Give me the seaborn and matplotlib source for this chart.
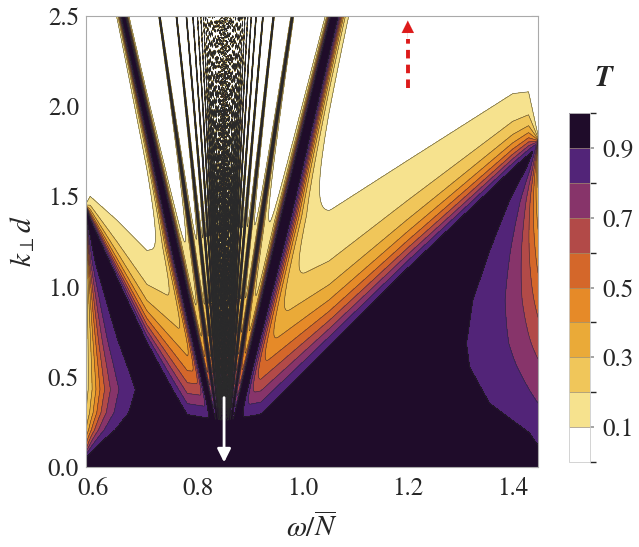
import numpy as np
import matplotlib
matplotlib.use("Agg")
import matplotlib.pyplot as plt
from matplotlib.colors import ListedColormap, BoundaryNorm
import seaborn as sns

# colour bands of the transmission T
t_levels = [0.0, 0.1, 0.2, 0.3, 0.4, 0.5, 0.6, 0.7, 0.8, 0.9, 1.0]
band_colors = ["#ffffff", "#f6e28e", "#f0c65a", "#eaaa38", "#e68a28",
               "#d4672a", "#b24a48", "#87346a", "#522478", "#1f0c2a"]
cbar_ticks = [0.1, 0.3, 0.5, 0.7, 0.9]

# frequency band and centre of the resonance fan
omega_min, omega_max = 0.587, 1.448
omega_c = 0.85

# fringe rays: k*B/|w - wc| = pi*(n + n0)
fringe_B = 0.433
fringe_n0 = {"left": 0.80, "right": 0.65}
halo_edge = {"left": 0.40, "right": 0.30}

# T=0.9 and T=0.1 lines of the decaying envelope
env_omega = [0.587, 0.595, 0.646, 0.703, 0.78, 0.85, 0.92, 1.05, 1.20, 1.40, 1.43, 1.448]
env_k09 = [1.44, 1.37, 1.05, 0.70, 0.30, 0.26, 0.30, 0.68, 1.11, 1.66, 1.74, 1.80]
env_k01 = [1.46, 1.50, 1.368, 1.20, 1.25, 1.30, 1.35, 1.42, 1.70, 2.07, 2.08, 1.84]
env_growth = 0.85

# side lobes at both band edges: width of T=0.9 region and T on the edge
lobe_left_k = [0.0, 0.05, 0.12, 0.205, 0.30, 0.43, 0.55, 0.70, 0.85, 1.13, 1.40, 2.5]
lobe_left_w = [0.0, 0.0, 0.022, 0.055, 0.08, 0.092, 0.078, 0.06, 0.045, 0.018, 0.0, 0.0]
lobe_left_T = [0.95, 0.90, 0.50, 0.30, 0.20, 0.15, 0.14, 0.13, 0.13, 0.13, 0.13, 0.13]
lobe_right_k = [0.0, 0.12, 0.188, 0.354, 0.555, 0.685, 0.925, 1.20, 1.48, 1.66, 1.82, 2.5]
lobe_right_w = [0.0, 0.0, 0.016, 0.092, 0.13, 0.136, 0.124, 0.092, 0.054, 0.022, 0.0, 0.0]
lobe_right_T = [0.95, 0.90, 0.86, 0.80, 0.72, 0.66, 0.56, 0.45, 0.33, 0.25, 0.20, 0.20]
lobe_power = 3

# annotation arrows
white_arrow = (0.85, 0.40, 0.01)
red_arrow = (1.20, 2.10, 2.49)

sns.set_theme(style="white")
plt.rcParams["font.family"] = ["STIXGeneral", "DejaVu Serif"]
plt.rcParams["mathtext.fontset"] = "stix"

# grid
om = np.linspace(omega_min, omega_max, 1500)
kk = np.linspace(0.0, 2.5, 800)
W, K = np.meshgrid(om, kk)

# fringe factor: flat-topped first resonance, sharp higher orders
left = W < omega_c
delta = np.abs(W - omega_c) + 1e-6
psi = K * fringe_B / delta - np.where(left, fringe_n0["left"], fringe_n0["right"]) * np.pi
pc = np.where(left, halo_edge["left"], halo_edge["right"]) * np.pi
S = np.where(psi >= np.pi, np.sin(psi) ** 2,
             np.where(psi >= pc, np.sin(0.5 * np.pi * (np.pi - psi) / (np.pi - pc)) ** 2, 1.0))
S = np.where(psi < 1.5 * np.pi, S ** 2, S)

# envelope
k09 = np.interp(om, env_omega, env_k09)
k01 = np.interp(om, env_omega, env_k01)
sqA = (8.0 / 3.0) / (k01 - k09)
ks = k09 - (1.0 / 3.0) / sqA
F = (sqA * np.clip(K - ks, 0, None)) ** 2 * np.exp(2 * env_growth * np.clip(K - k01, 0, None))


def lobe(e, k, kn, wn, tn, m=lobe_power):
    w = np.interp(k, kn, wn)
    te = np.interp(k, kn, tn)
    beta = 1.0 / np.clip((9.0 * (1.0 / te - 1.0)) ** (1.0 / m) - 1.0, 0.05, None)
    return (1.0 / 9.0) * ((1 + beta) * w / (e + beta * w + 1e-9)) ** m


EL = lobe(W - omega_min, K, lobe_left_k, lobe_left_w, lobe_left_T)
ER = lobe(omega_max - W, K, lobe_right_k, lobe_right_w, lobe_right_T)
T = 1.0 / (1.0 + F * S + EL + ER)

fig = plt.figure(figsize=(6.39, 5.47), dpi=100)
ax = fig.add_axes([86 / 639, 1 - 467 / 547, 452 / 639, 451 / 547])
cax = fig.add_axes([569 / 639, 1 - 462 / 547, 21 / 639, 349 / 547])

cmap = ListedColormap(band_colors)
norm = BoundaryNorm(t_levels, cmap.N)
cf = ax.contourf(W, K, T, levels=t_levels, cmap=cmap, norm=norm)
ax.contour(W, K, T, levels=t_levels[1:-1], colors="#2a2a2a", linewidths=0.4, alpha=0.85)

ax.set_xlim(omega_min, omega_max)
ax.set_ylim(0, 2.5)
ax.set_xticks([0.6, 0.8, 1.0, 1.2, 1.4])
ax.set_xticklabels(["0.6", "0.8", "1.0", "1.2", "1.4"])
ax.set_yticks([0.0, 0.5, 1.0, 1.5, 2.0, 2.5])
ax.set_yticklabels(["0.0", "0.5", "1.0", "1.5", "2.0", "2.5"])
ax.set_xticks(np.arange(0.6, 1.45, 0.05), minor=True)
ax.set_yticks(np.arange(0.0, 2.51, 0.1), minor=True)
ax.tick_params(which="both", direction="in", top=True, right=True, color="#999999")
ax.tick_params(which="major", length=5, width=0.8, labelsize=18)
ax.tick_params(which="minor", length=3, width=0.6)
ax.tick_params(axis="x", pad=7)
ax.tick_params(axis="y", pad=5)
for sp in ax.spines.values():
    sp.set_color("#aaaaaa")
    sp.set_linewidth(0.8)

ax.set_xlabel(r"$\omega/\overline{N}$", fontsize=21, labelpad=9)
ax.set_ylabel(r"$k_{\perp}d$", fontsize=21, labelpad=8)

# arrows
ax.annotate("", xy=(white_arrow[0], white_arrow[2]), xytext=(white_arrow[0], white_arrow[1]),
            arrowprops=dict(arrowstyle="-|>", color="white", lw=2, mutation_scale=20))
ax.plot([red_arrow[0], red_arrow[0]], [red_arrow[1], red_arrow[2] - 0.12],
        color="#dd1a1a", lw=2.8, dashes=(2.2, 1.6))
ax.annotate("", xy=(red_arrow[0], red_arrow[2]), xytext=(red_arrow[0], red_arrow[2] - 0.13),
            arrowprops=dict(arrowstyle="-|>", color="#dd1a1a", lw=0.1, mutation_scale=22))

cb = fig.colorbar(cf, cax=cax, ticks=cbar_ticks, drawedges=True)
cb.ax.set_yticklabels(["0.1", "0.3", "0.5", "0.7", "0.9"])
cb.ax.tick_params(labelsize=18, length=3, color="#999999", pad=6)
cb.outline.set_edgecolor("#cccccc")
cb.outline.set_linewidth(0.6)
cb.dividers.set_color("#9a8a70")
cb.dividers.set_linewidth(0.5)
fig.text(603 / 639, 1 - 78 / 547, "T", fontsize=21, fontweight="bold", fontstyle="italic",
         ha="center", va="center")

fig.savefig("out.png", dpi=100)
